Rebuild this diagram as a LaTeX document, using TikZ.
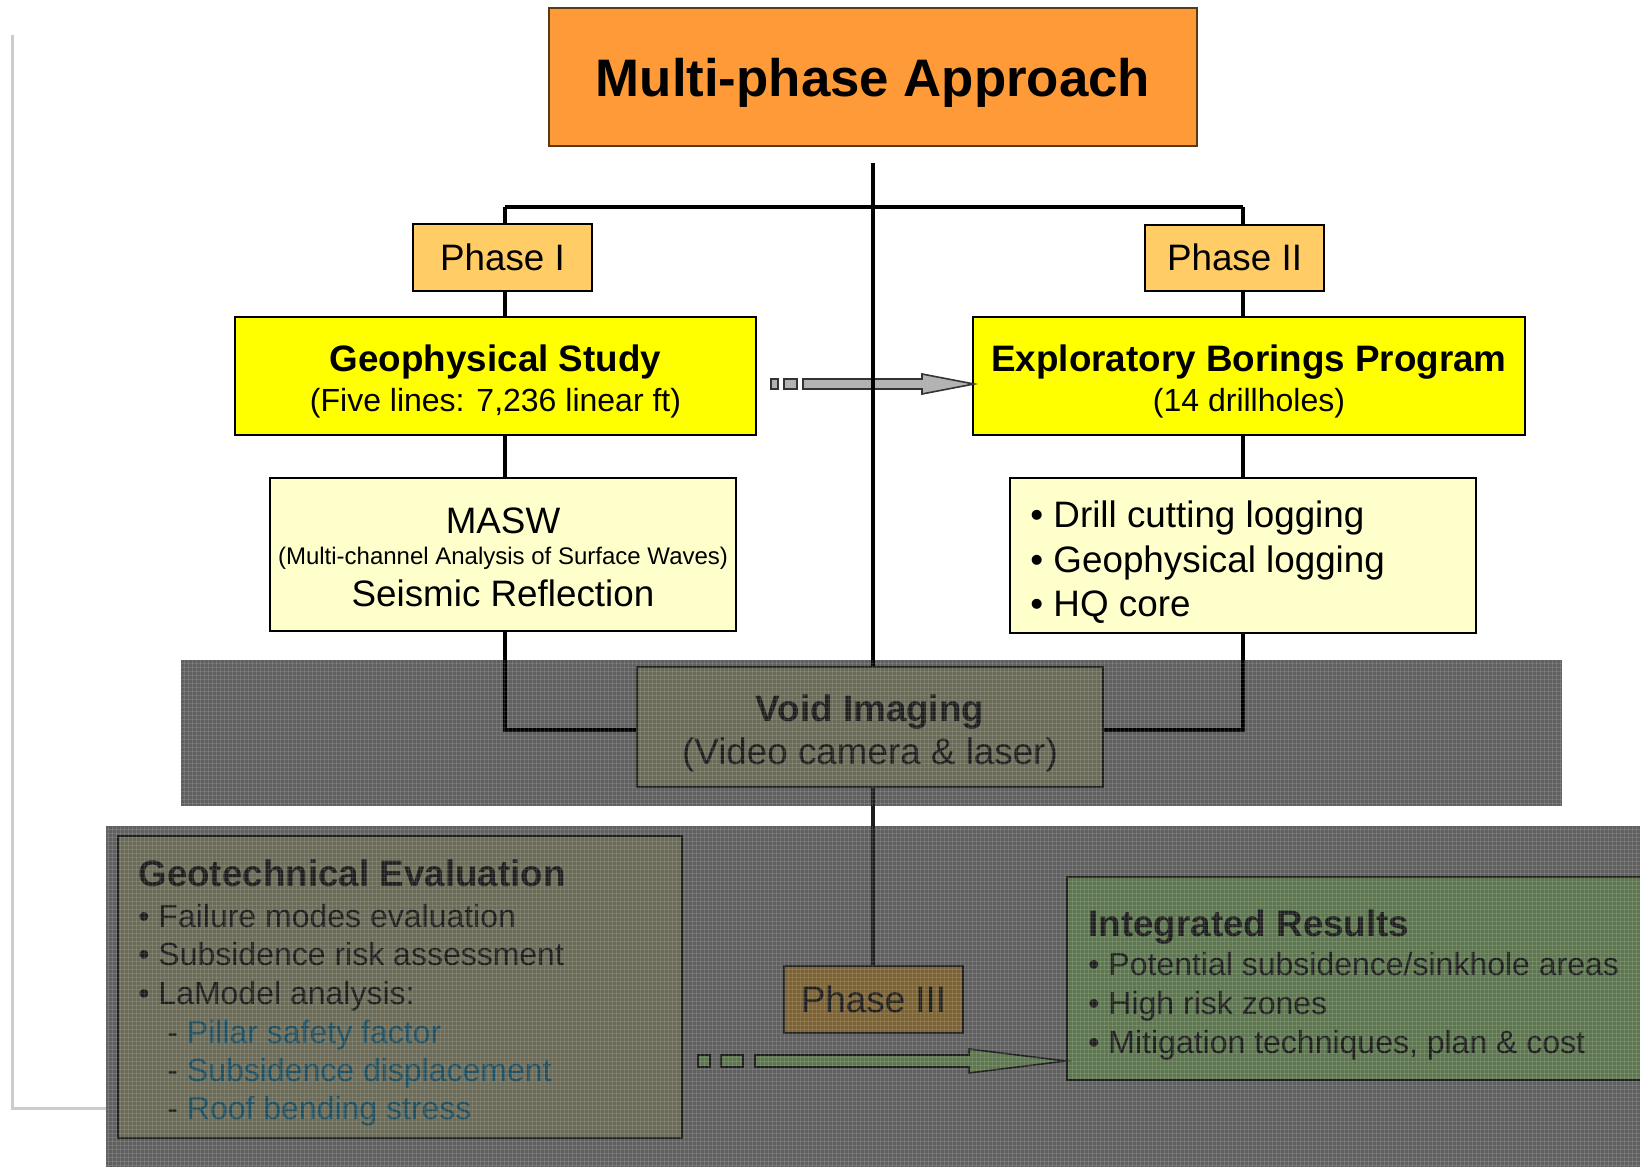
\documentclass[tikz,border=0pt]{standalone}
\usepackage{fontspec}
\setmainfont{Liberation Sans}
\usetikzlibrary{calc}
\definecolor{cTitle}{HTML}{FF9A38}
\definecolor{cTitleB}{HTML}{5A3A14}
\definecolor{cPhase}{HTML}{FFCC66}
\definecolor{cYel}{HTML}{FFFF00}
\definecolor{cLight}{HTML}{FFFFCC}
\definecolor{cArrow}{HTML}{B3B3B3}
\definecolor{cOver}{HTML}{606060}
\definecolor{cDimBox}{HTML}{6B6B58}
\definecolor{cDimGreen}{HTML}{5E7650}
\definecolor{cDimPhase}{HTML}{7A6234}
\definecolor{cDimText}{HTML}{1E1E1E}
\definecolor{cDimBlue}{HTML}{1D4F62}
\definecolor{cBracket}{HTML}{CCCCCC}
\newcommand\fTitle{\fontsize{26.4}{30}\selectfont\bfseries}
\newcommand\fMain{\fontsize{18.4}{22}\selectfont}
\newcommand\fSub{\fontsize{16}{19}\selectfont}
\newcommand\fSmall{\fontsize{12}{14}\selectfont}
\begin{document}
\begin{tikzpicture}[x=0.5pt,y=-0.5pt,
  box/.style={draw=black, line width=1pt, inner sep=0pt},
  capbox/.style={box, text height=13.2pt, text depth=0pt},
  dimbox/.style={draw=cDimText, line width=1pt, inner sep=0pt},
  conn/.style={line width=2pt, black},
  dimconn/.style={line width=2pt, cDimText},
  txt/.style={inner sep=0pt, anchor=base},
  txtl/.style={inner sep=0pt, anchor=base west},
  overlay/.style={fill=cOver},
  texline/.style={draw=white, draw opacity=0.12, line width=0.3pt},
  arrowshape/.style={line width=0.8pt, draw=black!80},
]
\useasboundingbox (0,0) rectangle (1640,1167);

% left bracket line
\draw[cBracket, line width=1.5pt] (12,35) -- (12,1108) -- (106,1108);

% ---------- top part ----------
\node[box, fill=cTitle, draw=cTitleB, line width=0.75pt, minimum width=324pt, minimum height=69pt, text height=19pt, text depth=0pt, font=\fTitle] (title) at (873,77) {Multi-phase Approach};

\node[capbox, fill=cPhase, minimum width=89.5pt, minimum height=33.5pt, font=\fMain] (ph1) at (502.5,257.5) {Phase I};
\node[capbox, fill=cPhase, minimum width=89.5pt, minimum height=33pt, font=\fMain] (ph2) at (1234.5,257.5) {Phase II};

\node[box, fill=cYel, minimum width=260.5pt, minimum height=59pt] (geo) at (495.5,376) {};
\node[txt, font=\fMain\bfseries] (geot1) at (495.5,371) {Geophysical Study};
\node[txt, font=\fSub] (geot2) at (495.5,411) {(Five lines: 7,236 linear ft)};

\node[box, fill=cYel, minimum width=276pt, minimum height=59pt] (exp) at (1249,376) {};
\node[txt, font=\fMain\bfseries] (expt1) at (1249,371) {Exploratory Borings Program};
\node[txt, font=\fSub] (expt2) at (1249,411) {(14 drillholes)};

\node[box, fill=cLight, minimum width=233pt, minimum height=76.5pt] (masw) at (503,554.5) {};
\node[txt, font=\fMain] (maswt1) at (503,533) {MASW};
\node[txt, font=\fSmall] (maswt2) at (503,564) {(Multi-channel Analysis of Surface Waves)};
\node[txt, font=\fMain] (maswt3) at (503,606) {Seismic Reflection};

\node[box, fill=cLight, minimum width=233pt, minimum height=77.5pt] (drill) at (1243,555.5) {};
\node[txtl, font=\fMain] (drill1) at (1030,527) {• Drill cutting logging};
\node[txtl, font=\fMain] (drill2) at (1030,572) {• Geophysical logging};
\node[txtl, font=\fMain] (drill3) at (1030,616) {• HQ core};

% top arrow (geo -> exp)
\coordinate (ta) at ($(exp.west)+(0,8)$);
\filldraw[arrowshape, fill=cArrow] ($(ta)+(-201,-5)$) rectangle ($(ta)+(-194,5)$);
\filldraw[arrowshape, fill=cArrow] ($(ta)+(-188,-5)$) rectangle ($(ta)+(-175,5)$);
\filldraw[arrowshape, fill=cArrow] ($(ta)+(-169,-5)$) -- ($(ta)+(-50,-5)$) -- ($(ta)+(-50,-10)$) -- ($(ta)+(2,0)$) -- ($(ta)+(-50,10)$) -- ($(ta)+(-50,5)$) -- ($(ta)+(-169,5)$) -- cycle;

% ---------- overlays ----------
\fill[overlay] (181,660) rectangle (1562,806);
\fill[overlay] (106,826) rectangle (1660,1180);

% void imaging
\node[dimbox, fill=cDimBox, minimum width=233pt, minimum height=60pt] (void) at (870,727) {};
\node[txt, font=\fMain\bfseries, text=cDimText] (voidt1) at (870,721) {Void Imaging};
\node[txt, font=\fMain, text=cDimText] (voidt2) at (870,764) {(Video camera \& laser)};

% connectors
\coordinate (tj) at ($(title.south)+(0,16)$);
\coordinate (jl) at (505,207);
\coordinate (jr) at (1243,207);
\draw[conn] (tj) -- (tj |- void.north);
\draw[conn] (jl) -- (jr);
\draw[conn] (jl) -- (jl |- ph1.north);
\draw[conn] (ph1.south -| jl) -- (jl |- geo.north);
\draw[conn] (geo.south -| jl) -- (jl |- masw.north);
\draw[conn] (masw.south -| jl) |- ($(void.west)+(0,3)$);
\draw[conn] (jr) -- (jr |- ph2.north);
\draw[conn] (ph2.south -| jr) -- (jr |- exp.north);
\draw[conn] (exp.south -| jr) -- (jr |- drill.north);
\draw[conn] (drill.south -| jr) |- ($(void.east)+(0,3)$);

% lower part
\node[capbox, draw=cDimText, fill=cDimPhase, minimum width=89.5pt, minimum height=33.5pt, font=\fMain, text=cDimText] (ph3) at (873.5,999.5) {Phase III};
\draw[dimconn] (void.south -| tj) -- (tj |- ph3.north);

\node[dimbox, fill=cDimBox, minimum width=282pt, minimum height=151pt] (geot) at (400,987) {};
\node[txtl, font=\fMain\bfseries, text=cDimText] (ge0) at (138,886) {Geotechnical Evaluation};
\node[txtl, font=\fSub, text=cDimText] (ge1) at (138,927) {• Failure modes evaluation};
\node[txtl, font=\fSub, text=cDimText] (ge2) at (138,965) {• Subsidence risk assessment};
\node[txtl, font=\fSub, text=cDimText] (ge3) at (138,1004) {• LaModel analysis:};
\node[txtl, font=\fSub, text=cDimText] (ge4) at (167,1043) {- \textcolor{cDimBlue}{Pillar safety factor}};
\node[txtl, font=\fSub, text=cDimText] (ge5) at (167,1081) {- \textcolor{cDimBlue}{Subsidence displacement}};
\node[txtl, font=\fSub, text=cDimText] (ge6) at (167,1119) {- \textcolor{cDimBlue}{Roof bending stress}};

\node[dimbox, fill=cDimGreen, minimum width=306.5pt, minimum height=101.5pt] (integ) at (1373.5,978.5) {};
\node[txtl, font=\fMain\bfseries, text=cDimText] (in0) at (1088,936) {Integrated Results};
\node[txtl, font=\fSub, text=cDimText] (in1) at (1088,975) {• Potential subsidence/sinkhole areas};
\node[txtl, font=\fSub, text=cDimText] (in2) at (1088,1014) {• High risk zones};
\node[txtl, font=\fSub, text=cDimText] (in3) at (1088,1053) {• Mitigation techniques, plan \& cost};

% bottom arrow (geot -> integ)
\coordinate (ba) at ($(integ.west)+(0,82.5)$);
\filldraw[arrowshape, draw=cDimText, fill=cDimGreen] ($(ba)+(-368,-6)$) rectangle ($(ba)+(-356,6)$);
\filldraw[arrowshape, draw=cDimText, fill=cDimGreen] ($(ba)+(-345,-6)$) rectangle ($(ba)+(-323,6)$);
\filldraw[arrowshape, draw=cDimText, fill=cDimGreen] ($(ba)+(-311,-6)$) -- ($(ba)+(-97,-6)$) -- ($(ba)+(-97,-12)$) -- ($(ba)+(0,0)$) -- ($(ba)+(-97,12)$) -- ($(ba)+(-97,6)$) -- ($(ba)+(-311,6)$) -- cycle;

% fine texture over the overlays
\foreach \i in {184,188,...,1560} {\draw[texline] (\i,660) -- (\i,806);}
\foreach \j in {663,667,...,805} {\draw[texline] (181,\j) -- (1562,\j);}
\foreach \i in {108,112,...,1640} {\draw[texline] (\i,826) -- (\i,1167);}
\foreach \j in {829,833,...,1167} {\draw[texline] (106,\j) -- (1640,\j);}
\end{tikzpicture}
\end{document}
